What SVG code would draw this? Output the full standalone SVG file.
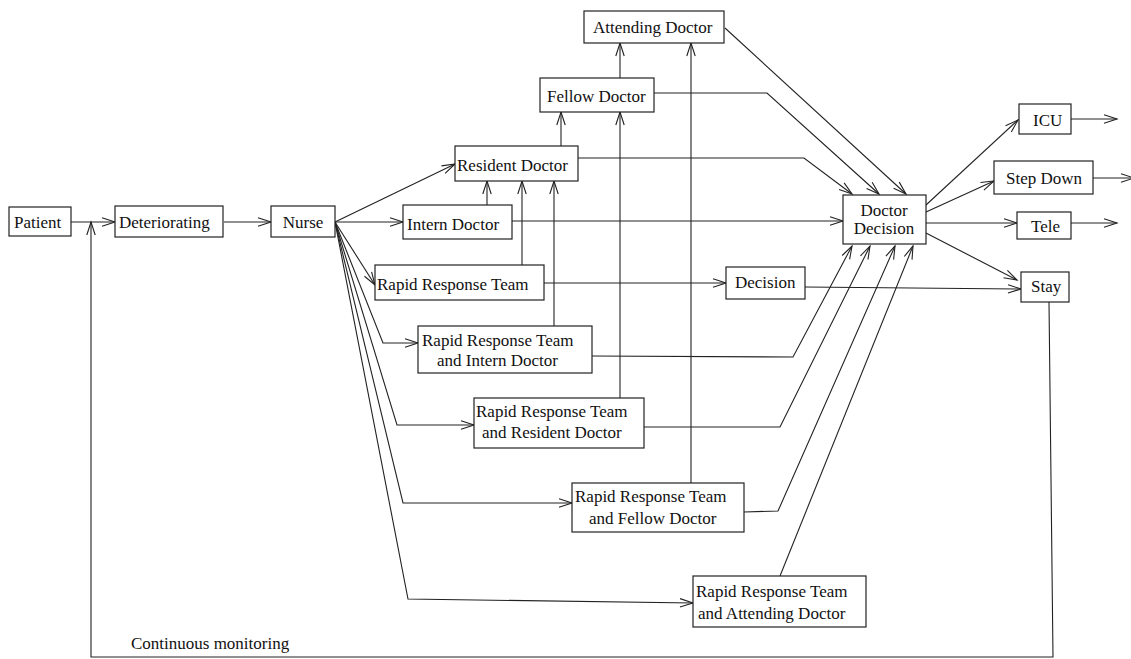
<svg xmlns="http://www.w3.org/2000/svg" width="1131" height="659" viewBox="0 0 1131 659">
  <style>
    .box { fill: #fff; stroke: #222; stroke-width: 1.2; }
    .lbl { font-family: "Liberation Serif", "Times New Roman", serif; font-size: 17px; fill: #111; }
    .mid { text-anchor: middle; }
    .edge { fill: none; stroke: #222; stroke-width: 1.1; }
    .arr { marker-end: url(#open); }
  </style>
  <defs>
    <marker id="open" markerUnits="userSpaceOnUse" markerWidth="14" markerHeight="10" refX="13" refY="5" orient="auto" overflow="visible">
      <path d="M0,0.8 L13,5 L0,9.2" fill="none" stroke="#222" stroke-width="1.1"/>
    </marker>
  </defs>
  <rect width="1131" height="659" fill="#fff"/>

  <!-- connectors -->
  <g id="connectors">
    <!-- main chain -->
    <line class="edge arr" x1="71" y1="222" x2="115" y2="222"/>
    <line class="edge arr" x1="224" y1="222" x2="271" y2="222"/>
    <!-- continuous monitoring loop -->
    <polyline class="edge arr" points="1049,302 1053,657 91,657 91,222"/>

    <!-- nurse fan-out -->
    <line class="edge arr" x1="335" y1="222" x2="455" y2="164"/>
    <line class="edge arr" x1="335" y1="222" x2="403" y2="222"/>
    <line class="edge arr" x1="335" y1="222" x2="375" y2="285"/>
    <polyline class="edge arr" points="335,222 383,343 418,343"/>
    <polyline class="edge arr" points="335,222 397,425 474,425"/>
    <polyline class="edge arr" points="335,222 403,503 572,503"/>
    <polyline class="edge arr" points="335,222 408,599 693,603"/>

    <!-- escalation upward -->
    <line class="edge arr" x1="487" y1="205" x2="487" y2="181"/>
    <line class="edge arr" x1="522" y1="265" x2="522" y2="181"/>
    <line class="edge arr" x1="554" y1="326" x2="554" y2="181"/>
    <line class="edge arr" x1="561" y1="146" x2="561" y2="112"/>
    <line class="edge arr" x1="620" y1="398" x2="620" y2="112"/>
    <line class="edge arr" x1="620" y1="78" x2="620" y2="43"/>
    <line class="edge arr" x1="691" y1="483" x2="691" y2="43"/>

    <!-- into Doctor Decision from above/left -->
    <polyline class="edge arr" points="578,158 804,158 852,194"/>
    <polyline class="edge arr" points="654,93 767,93 879,194"/>
    <line class="edge arr" x1="725" y1="28" x2="906" y2="194"/>
    <line class="edge arr" x1="512" y1="221" x2="843" y2="221"/>

    <!-- into Doctor Decision from below -->
    <polyline class="edge arr" points="592,356 793,357 852,246"/>
    <polyline class="edge arr" points="644,427 780,427 870,246"/>
    <polyline class="edge arr" points="744,512 778,511 895,246"/>
    <line class="edge arr" x1="780" y1="576" x2="913" y2="246"/>

    <!-- rapid response decision -->
    <line class="edge arr" x1="544" y1="283" x2="726" y2="283"/>
    <line class="edge arr" x1="805" y1="287" x2="1021" y2="289"/>

    <!-- outcomes -->
    <line class="edge arr" x1="926" y1="205" x2="1018" y2="120"/>
    <line class="edge arr" x1="926" y1="212" x2="994" y2="181"/>
    <line class="edge arr" x1="926" y1="223" x2="1017" y2="223"/>
    <line class="edge arr" x1="926" y1="233" x2="1017" y2="280"/>
    <line class="edge arr" x1="1071" y1="119" x2="1117" y2="119"/>
    <line class="edge arr" x1="1093" y1="178" x2="1134" y2="178"/>
    <line class="edge arr" x1="1071" y1="223" x2="1117" y2="223"/>
  </g>

  <!-- nodes -->
  <g id="patient">
    <rect class="box" x="9" y="207" width="62" height="29"/>
    <text class="lbl" x="14" y="228">Patient</text>
  </g>
  <g id="deteriorating">
    <rect class="box" x="115" y="206" width="108" height="31"/>
    <text class="lbl" x="119" y="228">Deteriorating</text>
  </g>
  <g id="nurse">
    <rect class="box" x="271" y="206" width="64" height="31"/>
    <text class="lbl mid" x="303" y="228">Nurse</text>
  </g>
  <g id="attending">
    <rect class="box" x="584" y="11" width="140" height="32"/>
    <text class="lbl" x="593" y="33">Attending Doctor</text>
  </g>
  <g id="fellow">
    <rect class="box" x="540" y="78" width="114" height="34"/>
    <text class="lbl" x="547" y="102">Fellow Doctor</text>
  </g>
  <g id="resident">
    <rect class="box" x="455" y="146" width="123" height="35"/>
    <text class="lbl" x="457" y="171">Resident Doctor</text>
  </g>
  <g id="intern">
    <rect class="box" x="403" y="205" width="109" height="34"/>
    <text class="lbl" x="407" y="230">Intern Doctor</text>
  </g>
  <g id="rrt">
    <rect class="box" x="375" y="265" width="169" height="35"/>
    <text class="lbl" x="377" y="290">Rapid Response Team</text>
  </g>
  <g id="rrt-intern">
    <rect class="box" x="418" y="326" width="174" height="47"/>
    <text class="lbl" x="422" y="346">Rapid Response Team</text>
    <text class="lbl" x="437" y="366">and Intern Doctor</text>
  </g>
  <g id="rrt-resident">
    <rect class="box" x="474" y="398" width="170" height="50"/>
    <text class="lbl" x="476" y="417">Rapid Response Team</text>
    <text class="lbl" x="482" y="438">and Resident Doctor</text>
  </g>
  <g id="rrt-fellow">
    <rect class="box" x="572" y="483" width="172" height="49"/>
    <text class="lbl" x="575" y="502">Rapid Response Team</text>
    <text class="lbl" x="589" y="524">and Fellow Doctor</text>
  </g>
  <g id="rrt-attending">
    <rect class="box" x="693" y="576" width="173" height="51"/>
    <text class="lbl" x="696" y="597">Rapid Response Team</text>
    <text class="lbl" x="698" y="619">and Attending Doctor</text>
  </g>
  <g id="decision">
    <rect class="box" x="726" y="267" width="79" height="32"/>
    <text class="lbl" x="735" y="288">Decision</text>
  </g>
  <g id="doctor-decision">
    <rect class="box" x="843" y="195" width="83" height="49"/>
    <text class="lbl mid" x="884" y="216">Doctor</text>
    <text class="lbl mid" x="884" y="234">Decision</text>
  </g>
  <g id="icu">
    <rect class="box" x="1019" y="104" width="52" height="30"/>
    <text class="lbl" x="1033" y="126">ICU</text>
  </g>
  <g id="step-down">
    <rect class="box" x="994" y="161" width="99" height="33"/>
    <text class="lbl" x="1006" y="184">Step Down</text>
  </g>
  <g id="tele">
    <rect class="box" x="1017" y="212" width="54" height="27"/>
    <text class="lbl" x="1031" y="232">Tele</text>
  </g>
  <g id="stay">
    <rect class="box" x="1021" y="272" width="48" height="30"/>
    <text class="lbl" x="1031" y="292">Stay</text>
  </g>
  <text id="monitoring-label" class="lbl" x="131" y="649">Continuous monitoring</text>
</svg>
